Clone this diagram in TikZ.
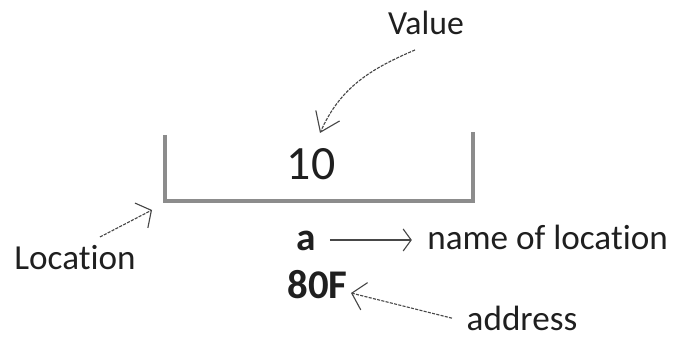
\documentclass[tikz,border=0pt]{standalone}
\usepackage{fontspec}
\setmainfont{Carlito}[Ligatures=NoCommon]
\usetikzlibrary{arrows.meta}
\tikzset{
	lbl/.style={inner sep=0pt,anchor=base,text=black!88},
	cell/.style={draw=black!45,line width=2.8pt},
	ptr/.style={draw=black!72,line width=0.8pt,dash pattern=on 2.2pt off 0.9pt},
}
\begin{document}
\begin{tikzpicture}
		\useasboundingbox (0,0) rectangle (16.875,8.575);
		% the memory cell
		\draw[cell] (4.125,5.2) -- (4.125,3.55) -- (11.825,3.55) -- (11.825,5.275);
		\node[lbl] (value) at (10.65,7.7) {\fontsize{24}{28}\selectfont Value};
		\node[lbl] (ten) at (7.775,4.075) {\fontsize{34}{40}\selectfont 10};
		\node[lbl] (location) at (1.875,1.825) {\fontsize{25}{30}\selectfont Location};
		\node[lbl] (aname) at (7.65,2.3) {\fontsize{28}{32}\selectfont\bfseries a};
		\node[lbl] (nameloc) at (13.69,2.325) {\fontsize{25}{30}\selectfont name of location};
		\node[lbl] (hexaddr) at (7.94,1.1) {\fontsize{29}{34}\selectfont\bfseries 80F};
		\node[lbl] (address) at (13.05,0.3) {\fontsize{25}{30}\selectfont address};
		% arrow ends
		\coordinate (valuetail) at (10.375,7.325);
		\coordinate (valuetip) at (8.0,5.25);
		\coordinate (loctail) at (2.5,2.65);
		\coordinate (loctip) at (3.8,3.325);
		\coordinate (addrtail) at (11.3,0.62);
		\coordinate (addrtip) at (8.775,1.25);
		\draw[ptr,-{Straight Barb[length=0.45cm,width=0.65cm]}] (valuetail) to[out=203,in=66] (valuetip);
		\draw[ptr,-{Straight Barb[length=0.28cm,width=0.7cm]}] (loctail) -- (loctip);
		\draw[ptr,solid,-{Straight Barb[length=0.2cm,width=0.55cm]},shorten <=0.35cm,shorten >=0.38cm] (aname.east|-0,2.575) -- (nameloc.west|-0,2.575);
		\draw[ptr,-{Straight Barb[length=0.32cm,width=0.7cm]}] (addrtail) -- (addrtip);
\end{tikzpicture}
\end{document}
